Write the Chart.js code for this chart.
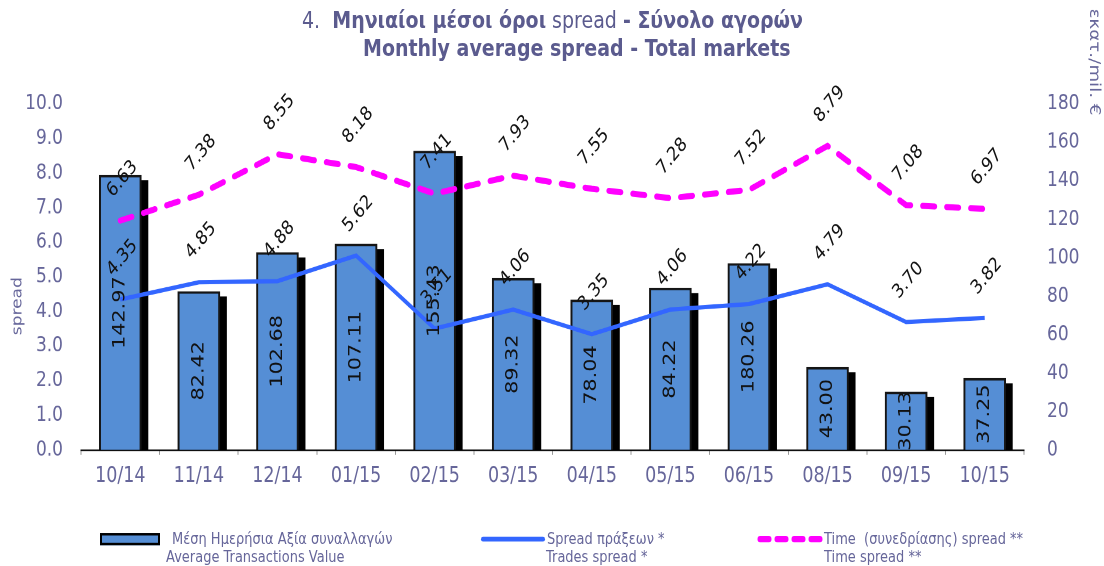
<!DOCTYPE html>
<html>
<head>
<meta charset="utf-8">
<script src="https://cdn.jsdelivr.net/npm/chart.js@4.4.1/dist/chart.umd.min.js"></script>
<style>
  html, body { margin: 0; padding: 0; background: #fff; overflow: hidden; }
  /* the reference is stretched vertically, so draw at 1104x464 and stretch to 566 */
  #stage { position: absolute; left: 0; top: 0; width: 1104px; height: 464px;
           transform: scaleY(1.2198); transform-origin: 0 0;
           font-family: "DejaVu Sans", sans-serif; color: #5b5b8e; }
  #chart { position: absolute; left: 0; top: 0; }
  .t { position: absolute; white-space: pre; line-height: 1; }
  .title { font-size: 19px; font-weight: bold; }
  .leg { font-size: 13px; color: #66669a; }
</style>
</head>
<body>
<div id="stage">
  <canvas id="chart" width="1104" height="464"></canvas>
  <div class="t title" style="left:302px; top:7px;"><span style="font-weight:normal">4.  </span>Μηνιαίοι μέσοι όροι<span style="font-weight:normal"> spread </span>- Σύνολο αγορών</div>
  <div class="t title" style="left:363px; top:30px;">Monthly average spread - Total markets</div>

  <div style="position:absolute; left:100px; top:437px; width:60px; height:10px; box-sizing:border-box; border:2px solid #000; background:#558ed5;"></div>
  <div class="t leg" style="left:172px; top:435px;">Μέση Ημερήσια Αξία συναλλαγών</div>
  <div class="t leg" style="left:166px; top:450px;">Average Transactions Value</div>

  <div style="position:absolute; left:481px; top:440px; width:64px; height:4px; border-radius:2px; background:#3366ff;"></div>
  <div class="t leg" style="left:547px; top:435px;">Spread πράξεων *</div>
  <div class="t leg" style="left:546px; top:450px;">Trades spread *</div>

  <svg style="position:absolute; left:756px; top:436px;" width="70" height="12">
    <line x1="4" y1="6" x2="66" y2="6" stroke="#ff00ff" stroke-width="5" stroke-linecap="round" stroke-dasharray="9 8"></line>
  </svg>
  <div class="t leg" style="left:824px; top:435px;">Time  (συνεδρίασης) spread **</div>
  <div class="t leg" style="left:824px; top:450px;">Time spread **</div>
</div>
<script>
// data
const months = ['10/14', '11/14', '12/14', '01/15', '02/15', '03/15', '04/15', '05/15', '06/15', '08/15', '09/15', '10/15'];
const avgValue = [142.97, 82.42, 102.68, 107.11, 155.43, 89.32, 78.04, 84.22, 97.0, 43.00, 30.13, 37.25];
const avgValueLabels = ['142.97', '82.42', '102.68', '107.11', '155.43', '89.32', '78.04', '84.22', '180.26', '43.00', '30.13', '37.25'];
const tradesSpread = [4.35, 4.85, 4.88, 5.62, 3.51, 4.06, 3.35, 4.06, 4.22, 4.79, 3.70, 3.82];
const timeSpread = [6.63, 7.38, 8.55, 8.18, 7.41, 7.93, 7.55, 7.28, 7.52, 8.79, 7.08, 6.97];

const FONT = '"DejaVu Sans", sans-serif';
const tickColor = '#66669a';

// black 3D-ish shadow behind every bar
const barShadow = {
    id: 'barShadow',
    beforeDatasetsDraw(chart) {
        const ctx = chart.ctx;
        ctx.save();
        ctx.fillStyle = '#000';
        chart.getDatasetMeta(0).data.forEach(bar => {
            const w = bar.width;
            ctx.fillRect(bar.x - w / 2 + 7, bar.y + 4, w, bar.base - bar.y - 4);
        });
        ctx.restore();
    }
};

// value labels: vertical inside the bars, slanted above the line points
const valueLabels = {
    id: 'valueLabels',
    afterDatasetsDraw(chart) {
        const ctx = chart.ctx;
        ctx.save();
        ctx.fillStyle = '#111';
        ctx.textAlign = 'center';
        ctx.textBaseline = 'middle';
        ctx.font = '17px ' + FONT;
        chart.getDatasetMeta(0).data.forEach((bar, i) => {
            ctx.save();
            ctx.translate(bar.x, (bar.y + bar.base) / 2);
            ctx.rotate(-Math.PI / 2);
            ctx.fillText(avgValueLabels[i], 0, 0);
            ctx.restore();
        });
        ctx.font = '16px ' + FONT;
        [1, 2].forEach(d => {
            const values = chart.data.datasets[d].data;
            chart.getDatasetMeta(d).data.forEach((pt, i) => {
                ctx.save();
                ctx.translate(pt.x + 2, pt.y - 34);
                ctx.rotate(-Math.PI / 4);
                ctx.fillText(values[i].toFixed(2), 0, 0);
                ctx.restore();
            });
        });
        ctx.restore();
    }
};

// axis titles
const axisTitles = {
    id: 'axisTitles',
    afterDraw(chart) {
        const ctx = chart.ctx;
        ctx.save();
        ctx.fillStyle = tickColor;
        ctx.font = '14px ' + FONT;
        ctx.textBaseline = 'middle';
        ctx.textAlign = 'center';
        ctx.translate(18, 251);
        ctx.rotate(-Math.PI / 2);
        ctx.fillText('spread', 0, 0);
        ctx.restore();

        ctx.save();
        ctx.fillStyle = tickColor;
        ctx.font = '15px ' + FONT;
        ctx.textBaseline = 'middle';
        ctx.textAlign = 'left';
        ctx.translate(1094, 7);
        ctx.rotate(Math.PI / 2);
        ctx.fillText('εκατ./mil. €', 0, 0);
        ctx.restore();
    }
};

new Chart(document.getElementById('chart'), {
    type: 'bar',
    data: {
        labels: months,
        datasets: [
            {
                label: 'Average Transactions Value',
                data: avgValue,
                yAxisID: 'y1',
                backgroundColor: '#558ed5',
                borderColor: '#151515',
                borderWidth: 2,
                barThickness: 42,
                order: 3
            },
            {
                type: 'line',
                label: 'Trades spread',
                data: tradesSpread,
                yAxisID: 'y',
                borderColor: '#3366ff',
                borderWidth: 3.5,
                pointRadius: 0,
                tension: 0,
                fill: false,
                order: 1
            },
            {
                type: 'line',
                label: 'Time spread',
                data: timeSpread,
                yAxisID: 'y',
                borderColor: '#ff00ff',
                borderWidth: 5,
                borderDash: [12, 12],
                borderCapStyle: 'round',
                pointRadius: 0,
                tension: 0,
                fill: false,
                order: 2
            }
        ]
    },
    options: {
        responsive: false,
        devicePixelRatio: 2,
        animation: false,
        layout: { padding: { top: 85.3, left: 0, right: 0, bottom: 0 } },
        plugins: {
            legend: { display: false },
            tooltip: { enabled: false }
        },
        scales: {
            x: {
                grid: { display: true, drawOnChartArea: false, drawTicks: true, tickLength: 4, color: '#999', offset: true },
                border: { display: true, color: '#000', width: 1.2 },
                ticks: { color: tickColor, font: { family: FONT, size: 17.5 }, padding: 7, maxRotation: 0 },
                afterFit: s => { s.height = 95.1; }
            },
            y: {
                position: 'left',
                min: 0,
                max: 10,
                grid: { display: false, drawTicks: false },
                border: { display: false },
                ticks: { stepSize: 1, color: tickColor, font: { family: FONT, size: 17 }, padding: 18, callback: v => v.toFixed(1) },
                afterFit: s => { s.width = 81; }
            },
            y1: {
                position: 'right',
                min: 0,
                max: 180,
                grid: { display: false, drawTicks: false },
                border: { display: false },
                ticks: { stepSize: 20, color: tickColor, font: { family: FONT, size: 17 }, padding: 23 },
                afterFit: s => { s.width = 80; }
            }
        }
    },
    plugins: [barShadow, valueLabels, axisTitles]
});
</script>
</body>
</html>
